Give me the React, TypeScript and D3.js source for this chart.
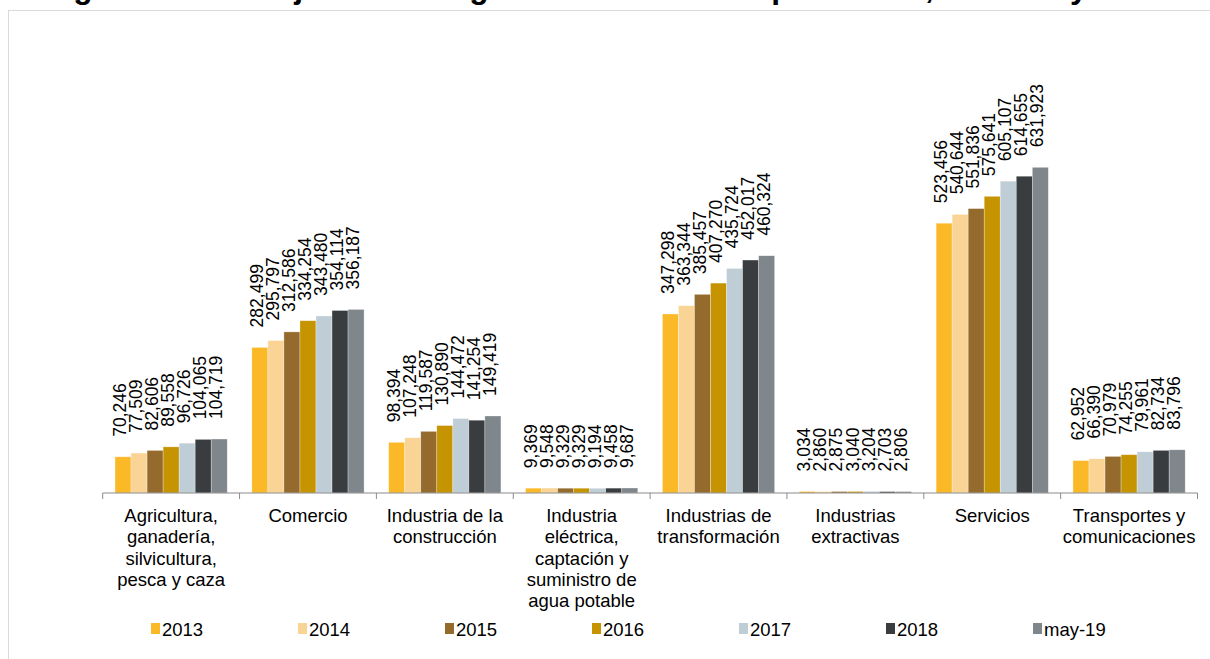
import * as d3 from 'd3';

// Sectores (categorías del eje X)
const categories = [
  ['Agricultura,', 'ganadería,', 'silvicultura,', 'pesca y caza'],
  ['Comercio'],
  ['Industria de la', 'construcción'],
  ['Industria', 'eléctrica,', 'captación y', 'suministro de', 'agua potable'],
  ['Industrias de', 'transformación'],
  ['Industrias', 'extractivas'],
  ['Servicios'],
  ['Transportes y', 'comunicaciones'],
];

const seriesNames = ['2013', '2014', '2015', '2016', '2017', '2018', 'may-19'];
const seriesColors = ['#fbb927', '#f9d495', '#946b2d', '#c59400', '#bfced6', '#3a3d40', '#7f878c'];

// valores por sector, en el orden de seriesNames
const agricultura = [70246, 77509, 82606, 89558, 96726, 104065, 104719];
const comercio = [282499, 295797, 312586, 334254, 343480, 354114, 356187];
const construccion = [98394, 107248, 119587, 130890, 144472, 141254, 149419];
const electrica = [9369, 9548, 9329, 9329, 9194, 9458, 9687];
const transformacion = [347298, 363344, 385457, 407270, 435724, 452017, 460324];
const extractivas = [3034, 2860, 2875, 3040, 3204, 2703, 2806];
const servicios = [523456, 540644, 551836, 575641, 605107, 614655, 631923];
const transportes = [62952, 66390, 70979, 74255, 79961, 82734, 83796];

const values = [agricultura, comercio, construccion, electrica, transformacion, extractivas, servicios, transportes];

const title = 'Registro de trabajadores asegurados en el IMSS por sector, 2013-mayo 2019';

const W = 1210;
const H = 659;
const font = '"Liberation Sans", Arial, sans-serif';

export default function App() {
  const baseY = 493;
  const x0 = d3
    .scaleBand<number>()
    .domain(d3.range(categories.length))
    .range([102.7, 1197.5])
    .paddingInner(0.18)
    .paddingOuter(0.09);
  const x1 = d3
    .scaleBand<number>()
    .domain(d3.range(seriesNames.length))
    .range([0, x0.bandwidth()]);
  const y = d3.scaleLinear().domain([0, 700000]).range([baseY, baseY - 700000 * 0.0005154]);
  const step = x0.step();
  const fmt = d3.format(',');

  const ticks = d3.range(categories.length + 1).map((i) => 102.7 + i * step);

  return (
    <svg width={W} height={H} style={{ position: 'absolute', left: 0, top: 0 }} fontFamily={font}>
      <rect x={0} y={0} width={W} height={H} fill="#fff" />
      <text x={32.7} y={-2.5} fontSize={31.8} fontWeight="bold" fill="#000">
        {title}
      </text>
      <rect x={8.5} y={10.5} width={W} height={H} fill="none" stroke="#d9d9d9" strokeWidth={1} />

      {values.map((vals, ci) => (
        <g key={ci} transform={`translate(${x0(ci)},0)`}>
          {vals.map((v, si) => (
            <rect
              key={si}
              x={x1(si)}
              y={y(v)}
              width={x1.bandwidth()}
              height={baseY - y(v)}
              fill={seriesColors[si]}
              stroke="#fff"
              strokeOpacity={0.5}
              strokeWidth={0.6}
            />
          ))}
          {vals.map((v, si) => {
            const lx = (x1(si) as number) + x1.bandwidth() / 2 - 3;
            const ly = y(v) - 20;
            return (
              <text
                key={'l' + si}
                transform={`translate(${lx},${ly}) rotate(-90)`}
                dy="0.35em"
                fontSize={17.5}
                fill="#000"
              >
                {fmt(v)}
              </text>
            );
          })}
        </g>
      ))}

      <line x1={ticks[0]} x2={ticks[ticks.length - 1]} y1={baseY} y2={baseY} stroke="#8c8c8c" strokeWidth={1.2} />
      {ticks.map((t, i) => (
        <line key={i} x1={t} x2={t} y1={baseY} y2={baseY + 6} stroke="#8c8c8c" strokeWidth={1} />
      ))}

      {categories.map((lines, ci) => (
        <text
          key={ci}
          x={(x0(ci) as number) + x0.bandwidth() / 2}
          y={522}
          textAnchor="middle"
          fontSize={18.5}
          fill="#000"
        >
          {lines.map((ln, li) => (
            <tspan key={li} x={(x0(ci) as number) + x0.bandwidth() / 2} y={522 + li * 21.3}>
              {ln}
            </tspan>
          ))}
        </text>
      ))}

      {seriesNames.map((name, si) => {
        const lx = 151 + si * 147;
        return (
          <g key={name}>
            <rect x={lx} y={623} width={9} height={11} fill={seriesColors[si]} />
            <text x={lx + 11} y={636} fontSize={18.5} fill="#000">
              {name}
            </text>
          </g>
        );
      })}
    </svg>
  );
}
